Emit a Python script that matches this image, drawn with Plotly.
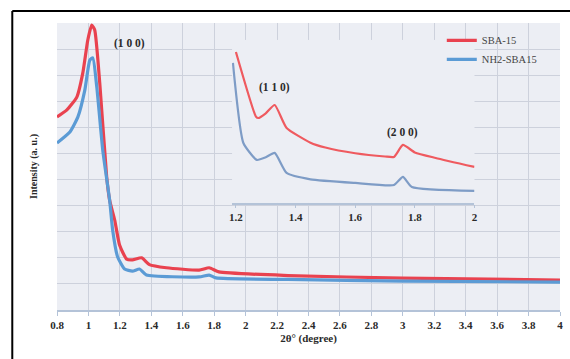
import plotly.graph_objects as go

# Main scan: 2-theta (degree) vs intensity (a. u.)
x_sba = [0.80, 0.863, 0.926, 0.964, 0.996, 1.021, 1.040, 1.072, 1.116, 1.135, 1.167, 1.198,
         1.243, 1.280, 1.338, 1.388, 1.496, 1.704, 1.768, 1.830, 2.27, 3.0, 4.0]
y_sba = [7.40, 7.67, 8.16, 9.08, 10.35, 10.92, 10.73, 8.70, 5.10, 4.20, 3.45, 2.49,
         1.95, 1.92, 2.00, 1.74, 1.62, 1.53, 1.62, 1.46, 1.32, 1.22, 1.15]

x_nh2 = [0.80, 0.882, 0.933, 0.977, 1.009, 1.028, 1.053, 1.091, 1.135, 1.154, 1.186, 1.230,
         1.280, 1.325, 1.369, 1.704, 1.768, 1.812, 2.27, 3.0, 4.0]
y_nh2 = [6.40, 6.82, 7.40, 8.43, 9.58, 9.66, 8.55, 6.13, 4.20, 3.07, 2.03, 1.57,
         1.49, 1.57, 1.34, 1.27, 1.34, 1.23, 1.17, 1.11, 1.07]

# Inset: low-angle region 1.2-2.0 degree, expanded intensity scale
xi_sba = [1.20, 1.267, 1.275, 1.300, 1.330, 1.370, 1.450, 1.500, 1.600, 1.700, 1.730,
          1.760, 1.800, 1.870, 2.00]
yi_sba = [9.26, 5.30, 5.21, 5.50, 6.01, 4.60, 3.70, 3.40, 3.05, 2.85, 2.82,
          3.56, 3.10, 2.76, 2.21]

xi_nh2 = [1.19, 1.225, 1.270, 1.300, 1.330, 1.370, 1.450, 1.600, 1.730, 1.760, 1.790, 2.00]
yi_nh2 = [8.59, 3.68, 2.64, 2.80, 3.07, 1.84, 1.45, 1.23, 1.10, 1.60, 0.98, 0.74]

main_ticks = [0.8, 1, 1.2, 1.4, 1.6, 1.8, 2, 2.2, 2.4, 2.6, 2.8, 3, 3.2, 3.4, 3.6, 3.8, 4]
main_tick_text = ["0.8", "1", "1.2", "1.4", "1.6", "1.8", "2", "2.2", "2.4", "2.6", "2.8",
                  "3", "3.2", "3.4", "3.6", "3.8", "4"]
inset_ticks = [1.2, 1.4, 1.6, 1.8, 2]
inset_tick_text = ["1.2", "1.4", "1.6", "1.8", "2"]

peak_labels = ["(1 0 0)", "(1 1 0)", "(2 0 0)"]

RED = "#e9424f"
BLUE = "#5b9bd5"
RED_IN = "#ef5a5f"
BLUE_IN = "#7e9cc6"
FONT = "Liberation Serif"
TXT = "#2a2a2a"
GRID = "#cdd1dc"

fig = go.Figure()
fig.add_trace(go.Scatter(x=x_sba, y=y_sba, mode="lines", name="SBA-15",
                         line=dict(color=RED, width=3.2, shape="spline", smoothing=0.5)))
fig.add_trace(go.Scatter(x=x_nh2, y=y_nh2, mode="lines", name="NH2-SBA15",
                         line=dict(color=BLUE, width=3.2, shape="spline", smoothing=0.5)))
fig.add_trace(go.Scatter(x=xi_sba, y=yi_sba, mode="lines", showlegend=False,
                         xaxis="x2", yaxis="y2",
                         line=dict(color=RED_IN, width=2.2, shape="spline", smoothing=0.5)))
fig.add_trace(go.Scatter(x=xi_nh2, y=yi_nh2, mode="lines", showlegend=False,
                         xaxis="x2", yaxis="y2",
                         line=dict(color=BLUE_IN, width=2.2, shape="spline", smoothing=0.5)))

# peak indexing labels
lab_font = dict(family=FONT, size=11.5, color=TXT, weight="bold")
fig.add_annotation(x=1.26, y=10.2, xref="x", yref="y", text=peak_labels[0],
                   showarrow=False, font=lab_font)
fig.add_annotation(x=1.33, y=7.1, xref="x2", yref="y2", text=peak_labels[1],
                   showarrow=False, font=lab_font)
fig.add_annotation(x=1.76, y=4.3, xref="x2", yref="y2", text=peak_labels[2],
                   showarrow=False, font=lab_font)

# frame lines on the left and top
fig.add_shape(type="line", xref="paper", yref="paper", x0=-0.0889, x1=-0.0889, y0=-0.2, y1=1.042,
              line=dict(color="black", width=2))
fig.add_shape(type="line", xref="paper", yref="paper", x0=-0.0889, x1=1.02, y0=1.042, y1=1.042,
              line=dict(color="black", width=2))

fig.update_layout(
    width=570, height=359,
    margin=dict(l=57, r=7, t=23, b=49),
    paper_bgcolor="white",
    plot_bgcolor="#eceef4",
    font=dict(family=FONT, color=TXT),
    showlegend=True,
    legend=dict(x=0.765, y=0.99, xanchor="left", yanchor="top",
                bgcolor="rgba(0,0,0,0)", borderwidth=0,
                font=dict(family=FONT, size=10.5, color="#444444"),
                itemwidth=30, tracegroupgap=2),
    xaxis=dict(range=[0.8, 4.0], tickvals=main_ticks, ticktext=main_tick_text,
               showgrid=True, gridcolor=GRID, gridwidth=1,
               showline=True, linecolor="#b4c3d8", linewidth=1.5,
               ticks="outside", ticklen=4, tickcolor="#b4c3d8",
               tickfont=dict(family=FONT, size=11, color=TXT, weight="bold"),
               title=dict(text="<b>2θ° (degree)</b>", standoff=4,
                          font=dict(family=FONT, size=11, color=TXT)),
               zeroline=False),
    yaxis=dict(range=[0, 11], dtick=1, showticklabels=False,
               showgrid=True, gridcolor=GRID, gridwidth=1,
               showline=False, zeroline=False,
               title=dict(text="<b>Intensity (a. u.)</b>", standoff=16,
                          font=dict(family=FONT, size=10, color=TXT))),
    xaxis2=dict(domain=[0.348, 0.830], anchor="y2", range=[1.187, 2.0],
                tickvals=inset_ticks, ticktext=inset_tick_text,
                showgrid=False, showline=True, linecolor="#b4c3d8", linewidth=1.5,
                ticks="outside", ticklen=3, tickcolor="#b4c3d8",
                tickfont=dict(family=FONT, size=11, color=TXT, weight="bold"),
                zeroline=False),
    yaxis2=dict(domain=[0.373, 0.941], anchor="x2", range=[0, 10],
                showgrid=False, showticklabels=False, showline=False, zeroline=False),
)

fig.write_html("out.html")
